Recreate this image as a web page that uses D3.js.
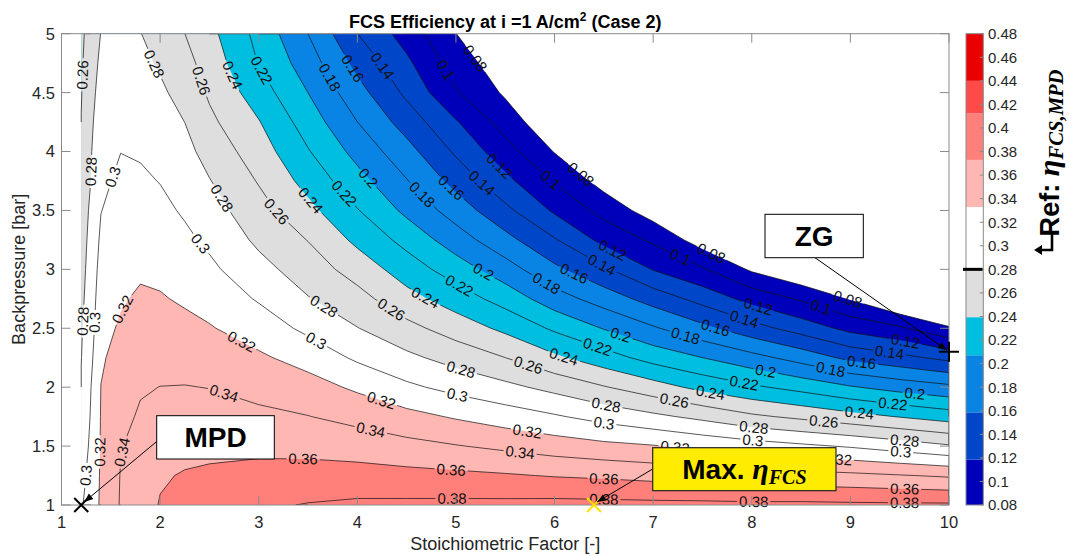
<!DOCTYPE html>
<html><head><meta charset="utf-8">
<script src="https://cdn.jsdelivr.net/npm/d3@7"></script>
<style>
body{margin:0;background:#fff}
svg{display:block}
text{font-family:"Liberation Sans",Arial,sans-serif}
</style>
</head><body>
<svg id="chart" width="1069" height="556"></svg>
<script>
// ---------------- data ----------------
const stoich = [1.2,1.3,1.4,1.6,1.8,2,2.25,2.5,3,3.5,4,4.5,5,5.5,6,6.5,7,7.5,8,8.5,9,9.5,10];
const backpressure = [1,1.25,1.5,1.75,2,2.25,2.5,2.75,3,3.25,3.5,3.75,4,4.25,4.5,4.75,5];
// FCS efficiency, one array per stoichiometric factor (values from bottom y=1 to top y=5)
const effByStoich = [
 [0.2975,0.293,0.2885,0.2845,0.2815,0.2795,0.278,0.2755,0.273,0.2705,0.268,0.2655,0.263,0.2605,0.259,0.2575,0.256],
 [0.3107,0.3077,0.3043,0.3018,0.3001,0.2962,0.2928,0.2906,0.2888,0.2869,0.2843,0.2805,0.279,0.277,0.2745,0.272,0.269],
 [0.3225,0.3222,0.3215,0.321,0.3203,0.3178,0.3142,0.3105,0.3069,0.3032,0.2996,0.2964,0.2932,0.29,0.2869,0.2837,0.2805],
 [0.3415,0.3408,0.3392,0.3349,0.3307,0.3264,0.3222,0.3182,0.3144,0.3107,0.3069,0.3032,0.2998,0.2965,0.293,0.2895,0.286],
 [0.352,0.3487,0.3455,0.3422,0.3383,0.3331,0.3278,0.3225,0.3175,0.3126,0.3078,0.3029,0.2982,0.2938,0.2894,0.2849,0.2805],
 [0.361,0.3583,0.3523,0.3463,0.3402,0.334,0.3278,0.3215,0.3158,0.3103,0.3048,0.2994,0.294,0.2886,0.2832,0.2777,0.272],
 [0.365,0.3612,0.3551,0.3478,0.3406,0.3328,0.325,0.3176,0.3108,0.3041,0.2976,0.2918,0.2859,0.2799,0.2733,0.2667,0.2601],
 [0.368,0.3627,0.3559,0.3472,0.3396,0.33,0.3214,0.3128,0.3041,0.2961,0.2885,0.2809,0.2727,0.2643,0.2572,0.2515,0.2457],
 [0.377,0.366,0.3556,0.3444,0.3336,0.323,0.3108,0.2981,0.2865,0.2761,0.2674,0.2586,0.2498,0.2411,0.2298,0.2192,0.214],
 [0.381,0.3676,0.3541,0.3405,0.3277,0.3126,0.2954,0.2811,0.2702,0.2594,0.2456,0.233,0.2214,0.2106,0.1999,0.1899,0.1799],
 [0.3835,0.3677,0.3508,0.334,0.3167,0.2968,0.2806,0.267,0.2517,0.2354,0.2211,0.2072,0.1935,0.1801,0.1675,0.1543,0.1401],
 [0.384,0.366,0.3458,0.3262,0.3038,0.2844,0.2659,0.2469,0.2303,0.2136,0.1954,0.1811,0.1672,0.1514,0.1358,0.1242,0.1114],
 [0.3845,0.3642,0.341,0.318,0.2939,0.2725,0.2509,0.2304,0.2101,0.1896,0.1711,0.1533,0.137,0.1218,0.1017,0.0904,0.0802],
 [0.385,0.3619,0.3358,0.3101,0.285,0.2601,0.2355,0.212,0.1887,0.1664,0.145,0.1254,0.108,0.0916,0.077,0.068,0.06],
 [0.386,0.3588,0.3301,0.3022,0.2741,0.2438,0.2167,0.1889,0.1645,0.1418,0.117,0.0985,0.079,0.0626,0.054,0.048,0.043],
 [0.3855,0.3568,0.325,0.2929,0.2613,0.2288,0.1989,0.1711,0.1433,0.1142,0.0933,0.072,0.062,0.054,0.048,0.043,0.039],
 [0.385,0.3538,0.3212,0.2843,0.2486,0.2125,0.1824,0.1518,0.1191,0.0967,0.07,0.061,0.054,0.048,0.043,0.038,0.034],
 [0.3848,0.3509,0.315,0.275,0.2343,0.2001,0.1653,0.1329,0.1022,0.07,0.06,0.053,0.047,0.042,0.037,0.033,0.03],
 [0.384,0.3483,0.3091,0.2636,0.2233,0.1867,0.1477,0.1133,0.077,0.06,0.052,0.046,0.041,0.037,0.033,0.029,0.026],
 [0.3843,0.3467,0.3036,0.2558,0.2133,0.1722,0.1315,0.0976,0.06,0.05,0.044,0.039,0.035,0.031,0.028,0.025,0.022],
 [0.3835,0.3444,0.298,0.2473,0.2018,0.155,0.1143,0.0785,0.06,0.048,0.041,0.036,0.032,0.028,0.025,0.022,0.02],
 [0.3832,0.3411,0.2905,0.2391,0.1922,0.1455,0.1032,0.055,0.045,0.038,0.033,0.029,0.026,0.023,0.02,0.018,0.016],
 [0.383,0.3375,0.2822,0.2309,0.1846,0.1345,0.0829,0.035,0.03,0.026,0.023,0.02,0.018,0.016,0.014,0.012,0.011]
];
const levels = [0.08,0.10,0.12,0.14,0.16,0.18,0.20,0.22,0.24,0.26,0.28,0.30,0.32,0.34,0.36,0.38];
const levelColors = ["#0000BB","#0000BB","#0046C8","#0046C8","#0A84E4","#0A84E4","#00BEE0","#00BEE0",
                     "#DEDEDE","#DEDEDE","#FFFFFF","#FFFFFF","#FFB7B3","#FFB7B3","#FF7F7A","#FF7F7A"];
const xTicks = [1,2,3,4,5,6,7,8,9,10];
const yTicks = [1,1.5,2,2.5,3,3.5,4,4.5,5];
const cbTicks = [0.08,0.1,0.12,0.14,0.16,0.18,0.2,0.22,0.24,0.26,0.28,0.3,0.32,0.34,0.36,0.38,0.4,0.42,0.44,0.46,0.48];
const cbEdges = [0.08,0.1186,0.1586,0.2071,0.2394,0.28,0.3329,0.3729,0.4125,0.44,0.48];
const cbColors = ["#0000BB","#0046C8","#0A84E4","#00BEE0","#DEDEDE","#FFFFFF","#FFB7B3","#FF7F7A","#FF4A4A","#EB0000"];
const cbRef = 0.28;
// contour label spots: [level, stoich, backpressure]
const labelSpots = [
 [0.26,1.234,4.65],[0.28,1.318,3.83],[0.30,1.50,3.79],[0.28,1.21,2.56],[0.30,1.34,2.55],
 [0.32,1.62,2.66],[0.32,1.39,1.45],[0.30,1.26,1.25],[0.34,1.61,1.45],
 [0.28,1.91,4.73],[0.26,2.38,4.59],[0.24,2.74,4.65],[0.22,3.01,4.68],[0.18,3.70,4.62],
 [0.16,3.96,4.71],[0.14,4.26,4.73],[0.10,4.87,4.68],[0.08,5.18,4.78],
 [0.28,2.60,3.59],[0.30,2.40,3.21],[0.26,3.18,3.49],[0.24,3.52,3.58],[0.22,3.86,3.64],
 [0.20,4.09,3.76],[0.18,4.65,3.63],[0.16,4.95,3.69],[0.14,5.25,3.72],[0.12,5.42,3.86],
 [0.10,5.96,3.76],[0.08,6.26,3.80],
 [0.32,2.81,2.36],[0.28,3.65,2.67],[0.30,3.58,2.39],[0.26,4.33,2.64],[0.24,4.67,2.73],
 [0.22,5.04,2.87],[0.20,5.26,2.95],[0.18,5.91,2.87],[0.16,6.19,2.95],[0.14,6.48,3.04],
 [0.12,6.58,3.15],[0.10,7.28,3.11],[0.08,7.58,3.12],
 [0.34,2.64,1.93],[0.36,3.45,1.40],[0.32,4.23,1.85],[0.34,4.13,1.61],[0.28,5.04,2.12],
 [0.30,5.01,1.92],[0.26,5.72,2.15],[0.24,6.09,2.25],[0.22,6.43,2.33],[0.20,6.67,2.44],
 [0.18,7.33,2.44],[0.16,7.63,2.50],[0.14,7.92,2.57],[0.12,8.06,2.67],[0.10,8.70,2.67],
 [0.08,8.97,2.74],
 [0.36,4.95,1.29],[0.38,4.96,1.06],[0.32,5.72,1.61],[0.34,5.65,1.44],[0.28,6.52,1.84],
 [0.30,6.50,1.68],[0.36,6.50,1.21],[0.38,6.50,1.06],[0.26,7.21,1.87],[0.24,7.58,1.95],
 [0.22,7.92,2.03],[0.20,8.14,2.13],[0.18,8.80,2.15],[0.16,9.11,2.19],[0.14,9.39,2.26],
 [0.12,9.55,2.35],[0.28,8.02,1.65],[0.30,8.01,1.54],[0.32,7.22,1.48],[0.32,8.87,1.40],
 [0.38,8.02,1.045],[0.26,8.73,1.70],[0.24,9.09,1.78],[0.22,9.43,1.85],[0.20,9.65,1.92],
 [0.28,9.55,1.54],[0.30,9.51,1.44],[0.36,9.55,1.13],[0.38,9.55,1.02]
];
// marked operating points [stoich, backpressure]
const pointMPD = [1.2, 1.0];
const pointMax = [6.4, 1.0];
const pointZG  = [10, 2.3];

// ---------------- layout ----------------
const W = 1069, H = 556;
const L = 61.5, R = 949, T = 33.7, B = 505;
const svg = d3.select("#chart");
const x = d3.scaleLinear().domain([1,10]).range([L,R]);
const y = d3.scaleLinear().domain([1,5]).range([B,T]);
const cbX0 = 966, cbX1 = 983.3;
const yc = d3.scaleLinear().domain([0.08,0.48]).range([B,T]);
const TXT = "#262626";
const SERIF = "'Liberation Serif','DejaVu Serif',serif";

svg.append("rect").attr("width",W).attr("height",H).attr("fill","#fff");

// ---------------- grid -> contours ----------------
const nx = stoich.length, ny = backpressure.length;
const values = new Array(nx*ny);
for (let j=0;j<ny;j++) for (let i=0;i<nx;i++) values[j*nx+i] = effByStoich[i][j];
const contours = d3.contours().size([nx,ny]).thresholds(levels)(values);

function g2v(g, arr){
  const t = g - 0.5, n = arr.length;
  if (t <= 0) return arr[0];
  if (t >= n-1) return arr[n-1];
  const k = Math.floor(t);
  return arr[k] + (t-k)*(arr[k+1]-arr[k]);
}
const toPx = p => [x(g2v(p[0], stoich)), y(g2v(p[1], backpressure))];
const proj = d3.geoTransform({point(a,b){ const q = toPx([a,b]); this.stream.point(q[0], q[1]); }});
const gpath = d3.geoPath(proj);

const defs = svg.append("defs");
defs.append("clipPath").attr("id","plotClip").append("rect")
  .attr("x",L).attr("y",T).attr("width",R-L).attr("height",B-T);

const fillG = svg.append("g").attr("clip-path","url(#plotClip)");
contours.forEach(c => {
  fillG.append("path").attr("d", gpath(c))
    .attr("fill", levelColors[levels.indexOf(c.value)])
    .attr("fill-rule","evenodd");
});

// contour lines (skip domain boundary)
function onB(p){ return p[0] <= 0 || p[0] >= nx || p[1] <= 0 || p[1] >= ny; }
function ringToLines(ring){
  const n = ring.length - 1;
  const isB = k => onB(ring[k]) && onB(ring[(k+1)%n]);
  let s = -1;
  for (let k=0;k<n;k++) if (isB(k)) { s = k; break; }
  if (s < 0) return [ring];
  const out = []; let cur = [];
  for (let m=1;m<=n;m++){
    const k = (s+m)%n;
    if (isB(k)) { if (cur.length>1) out.push(cur); cur = []; }
    else { if (!cur.length) cur.push(ring[k]); cur.push(ring[(k+1)%n]); }
  }
  if (cur.length>1) out.push(cur);
  return out;
}
const linesByLevel = new Map();
contours.forEach(c => {
  const arr = [];
  c.coordinates.forEach(poly => poly.forEach(ring => ringToLines(ring).forEach(l => arr.push(l.map(toPx)))));
  linesByLevel.set(c.value, arr);
});

// label placement
function walk(l, k, q, dist){
  const fwd = dist > 0;
  let cur = q, idx = fwd ? k+1 : k, remain = Math.abs(dist);
  while (true){
    if (idx < 0 || idx >= l.length) return cur;
    const nxt = l[idx];
    const d = Math.hypot(nxt[0]-cur[0], nxt[1]-cur[1]);
    if (d >= remain && d > 0){ const f = remain/d; return [cur[0]+f*(nxt[0]-cur[0]), cur[1]+f*(nxt[1]-cur[1])]; }
    remain -= d; cur = nxt; idx += fwd ? 1 : -1;
  }
}
function nearest(lines, P){
  let best = null;
  lines.forEach(l => {
    for (let k=0;k<l.length-1;k++){
      const a=l[k], b=l[k+1], dx=b[0]-a[0], dy=b[1]-a[1], L2=dx*dx+dy*dy;
      let t = L2 ? ((P[0]-a[0])*dx+(P[1]-a[1])*dy)/L2 : 0;
      t = Math.max(0, Math.min(1, t));
      const q = [a[0]+t*dx, a[1]+t*dy];
      const d = (q[0]-P[0])**2 + (q[1]-P[1])**2;
      if (!best || d < best.d) best = {d, q, l, k};
    }
  });
  return best;
}
const fmt = v => String(+v.toFixed(2));
const labelG = svg.append("g");
const gaps = new Map();
labelSpots.forEach(([lev, sx, sy]) => {
  const key = levels.find(v => Math.abs(v-lev) < 1e-9);
  const lines = linesByLevel.get(key);
  if (!lines || !lines.length) return;
  const P = [x(sx), y(sy)];
  const nb = nearest(lines, P);
  if (!nb) return;
  const a = walk(nb.l, nb.k, nb.q, -12), b = walk(nb.l, nb.k, nb.q, 12);
  let ang = Math.atan2(b[1]-a[1], b[0]-a[0]) * 180/Math.PI;
  if (ang >= 88) ang -= 180;
  if (ang < -92) ang += 180;
  const t = labelG.append("text")
    .attr("transform", `translate(${nb.q[0]},${nb.q[1]}) rotate(${ang})`)
    .attr("text-anchor","middle").attr("dy","0.35em")
    .attr("font-size",15).attr("fill","#111").text(fmt(lev));
  const w = t.node().getComputedTextLength();
  if (!gaps.has(key)) gaps.set(key, []);
  gaps.get(key).push({q: nb.q, ang, w});
});

const lineG = svg.insert("g", () => labelG.node()).attr("clip-path","url(#plotClip)");
levels.forEach((lev, i) => {
  const lines = linesByLevel.get(lev);
  if (!lines || !lines.length) return;
  const mid = "gapMask" + i;
  const mask = defs.append("mask").attr("id", mid).attr("maskUnits","userSpaceOnUse")
    .attr("x",0).attr("y",0).attr("width",W).attr("height",H);
  mask.append("rect").attr("width",W).attr("height",H).attr("fill","#fff");
  (gaps.get(lev) || []).forEach(g => {
    mask.append("rect").attr("x", -g.w/2 - 2).attr("y", -6).attr("width", g.w + 4).attr("height", 12)
      .attr("fill","#000").attr("transform", `translate(${g.q[0]},${g.q[1]}) rotate(${g.ang})`);
  });
  const sub = lineG.append("g").attr("mask", `url(#${mid})`);
  lines.forEach(l => sub.append("path").attr("d", d3.line()(l))
    .attr("fill","none").attr("stroke","#111").attr("stroke-width",0.7).attr("stroke-linejoin","round"));
});

// ---------------- axes ----------------
const axG = svg.append("g");
const AX = "#8a8a8a";
axG.append("rect").attr("x",L).attr("y",T).attr("width",R-L).attr("height",B-T)
  .attr("fill","none").attr("stroke",AX).attr("stroke-width",1);
xTicks.forEach(v => {
  axG.append("line").attr("x1",x(v)).attr("x2",x(v)).attr("y1",B).attr("y2",B-9).attr("stroke",AX);
  axG.append("line").attr("x1",x(v)).attr("x2",x(v)).attr("y1",T).attr("y2",T+9).attr("stroke",AX);
  axG.append("text").attr("x",x(v)).attr("y",528).attr("text-anchor","middle")
    .attr("font-size",16.5).attr("fill",TXT).text(v);
});
yTicks.forEach(v => {
  axG.append("line").attr("x1",L).attr("x2",L+9).attr("y1",y(v)).attr("y2",y(v)).attr("stroke",AX);
  axG.append("line").attr("x1",R).attr("x2",R-9).attr("y1",y(v)).attr("y2",y(v)).attr("stroke",AX);
  axG.append("text").attr("x",55).attr("y",y(v)).attr("dy","0.36em").attr("text-anchor","end")
    .attr("font-size",16.5).attr("fill",TXT).text(v);
});
axG.append("text").attr("x",(L+R)/2).attr("y",550).attr("text-anchor","middle")
  .attr("font-size",18).attr("fill",TXT).text("Stoichiometric Factor [-]");
axG.append("text").attr("transform",`translate(25,${(T+B)/2}) rotate(-90)`).attr("text-anchor","middle")
  .attr("font-size",18).attr("fill",TXT).text("Backpressure [bar]");
const title = svg.append("text").attr("x",(L+R)/2).attr("y",28).attr("text-anchor","middle")
  .attr("font-size",18).attr("font-weight","bold").attr("fill","#000");
title.append("tspan").text("FCS Efficiency at i =1 A/cm");
title.append("tspan").attr("dy",-7).attr("font-size",12).text("2");
title.append("tspan").attr("dy",7).text(" (Case 2)");

// ---------------- colorbar ----------------
const cbG = svg.append("g");
for (let i=0;i<cbColors.length;i++){
  cbG.append("rect").attr("x",cbX0).attr("width",cbX1-cbX0)
    .attr("y",yc(cbEdges[i+1])).attr("height",yc(cbEdges[i])-yc(cbEdges[i+1]))
    .attr("fill",cbColors[i]);
}
cbG.append("rect").attr("x",cbX0).attr("y",T).attr("width",cbX1-cbX0).attr("height",B-T)
  .attr("fill","none").attr("stroke",AX);
cbTicks.forEach(v => {
  cbG.append("line").attr("x1",cbX1).attr("x2",cbX1-3.5).attr("y1",yc(v)).attr("y2",yc(v)).attr("stroke",AX);
  cbG.append("text").attr("x",988).attr("y",yc(v)).attr("dy","0.36em").attr("font-size",15)
    .attr("fill",TXT).text(fmt(v));
});
cbG.append("line").attr("x1",963).attr("x2",982.5).attr("y1",yc(cbRef)).attr("y2",yc(cbRef))
  .attr("stroke","#000").attr("stroke-width",3);
// Ref label (rotated), scaled to the reference length
const refG = svg.append("g");
const ref = refG.append("text").attr("text-anchor","middle").attr("fill","#000");
ref.append("tspan").attr("font-size",25).attr("font-weight","bold").text("Ref: ");
ref.append("tspan").attr("font-family",SERIF).attr("font-style","italic")
  .attr("font-weight","bold").attr("font-size",28).text("η");
ref.append("tspan").attr("font-family",SERIF).attr("font-style","italic")
  .attr("font-weight","bold").attr("font-size",19).attr("dy",4).text("FCS,MPD");
const refLen = ref.node().getComputedTextLength();
const refK = Math.min(1.1, 167 / refLen);
refG.attr("transform",`translate(1059,153) rotate(-90) scale(${refK})`);
svg.append("path").attr("d","M1052,233 V250 H1040").attr("fill","none").attr("stroke","#000").attr("stroke-width",2.6);
svg.append("path").attr("d","M1034,250 L1042,245 L1042,255 Z").attr("fill","#000");

// ---------------- annotations ----------------
function arrow(x1,y1,x2,y2,head){
  svg.append("line").attr("x1",x1).attr("y1",y1).attr("x2",x2).attr("y2",y2).attr("stroke","#000").attr("stroke-width",1);
  if (head){
    const a = Math.atan2(y2-y1, x2-x1), hl = 9, hw = 3.5;
    const bx = x2 - hl*Math.cos(a), by = y2 - hl*Math.sin(a);
    const p = [[x2,y2],[bx + hw*Math.sin(a), by - hw*Math.cos(a)],[bx - hw*Math.sin(a), by + hw*Math.cos(a)]];
    svg.append("path").attr("d", "M"+p.map(d=>d.join(",")).join("L")+"Z").attr("fill","#000");
  }
}
function cross(px,py,s,color){
  svg.append("path").attr("d",`M${px-s},${py-s}L${px+s},${py+s}M${px-s},${py+s}L${px+s},${py-s}`)
    .attr("stroke",color).attr("stroke-width",2).attr("fill","none");
}
// MPD
cross(x(pointMPD[0]), y(pointMPD[1]), 7, "#000");
arrow(156.7, 441.5, x(pointMPD[0])+3, y(pointMPD[1])-3, true);
svg.append("rect").attr("x",156.7).attr("y",415.7).attr("width",117.6).attr("height",43.3)
  .attr("fill","#fff").attr("stroke","#000").attr("stroke-width",1);
svg.append("text").attr("x",215.5).attr("y",437.3).attr("dy","0.36em").attr("text-anchor","middle")
  .attr("font-size",28).attr("font-weight","bold").attr("fill","#000").text("MPD");
// ZG
const zgx = x(pointZG[0]), zgy = y(pointZG[1]);
svg.append("path").attr("d",`M${zgx-10},${zgy}H${zgx+10}M${zgx},${zgy-10}V${zgy+10}`)
  .attr("stroke","#000").attr("stroke-width",2);
arrow(815, 257.7, zgx-2, zgy-1.5, true);
svg.append("rect").attr("x",765).attr("y",214.3).attr("width",98.3).attr("height",43.4)
  .attr("fill","#fff").attr("stroke","#000").attr("stroke-width",1);
svg.append("text").attr("x",814.2).attr("y",236).attr("dy","0.36em").attr("text-anchor","middle")
  .attr("font-size",28).attr("font-weight","bold").attr("fill","#000").text("ZG");
// Max
cross(x(pointMax[0]), y(pointMax[1]), 7, "#FFE000");
arrow(652.7, 469, x(pointMax[0])+3, y(pointMax[1])-3, true);
svg.append("rect").attr("x",652.7).attr("y",447.7).attr("width",183.3).attr("height",43)
  .attr("fill","#FFEC00").attr("stroke","#222").attr("stroke-width",1.2);
const mx = svg.append("text").attr("x",744.4).attr("y",479).attr("text-anchor","middle").attr("fill","#000");
mx.append("tspan").attr("font-size",28).attr("font-weight","bold").text("Max. ");
mx.append("tspan").attr("font-family",SERIF).attr("font-style","italic")
  .attr("font-weight","bold").attr("font-size",30).text("η");
mx.append("tspan").attr("font-family",SERIF).attr("font-style","italic")
  .attr("font-weight","bold").attr("font-size",20).attr("dy",5).text("FCS");
</script>
</body></html>
